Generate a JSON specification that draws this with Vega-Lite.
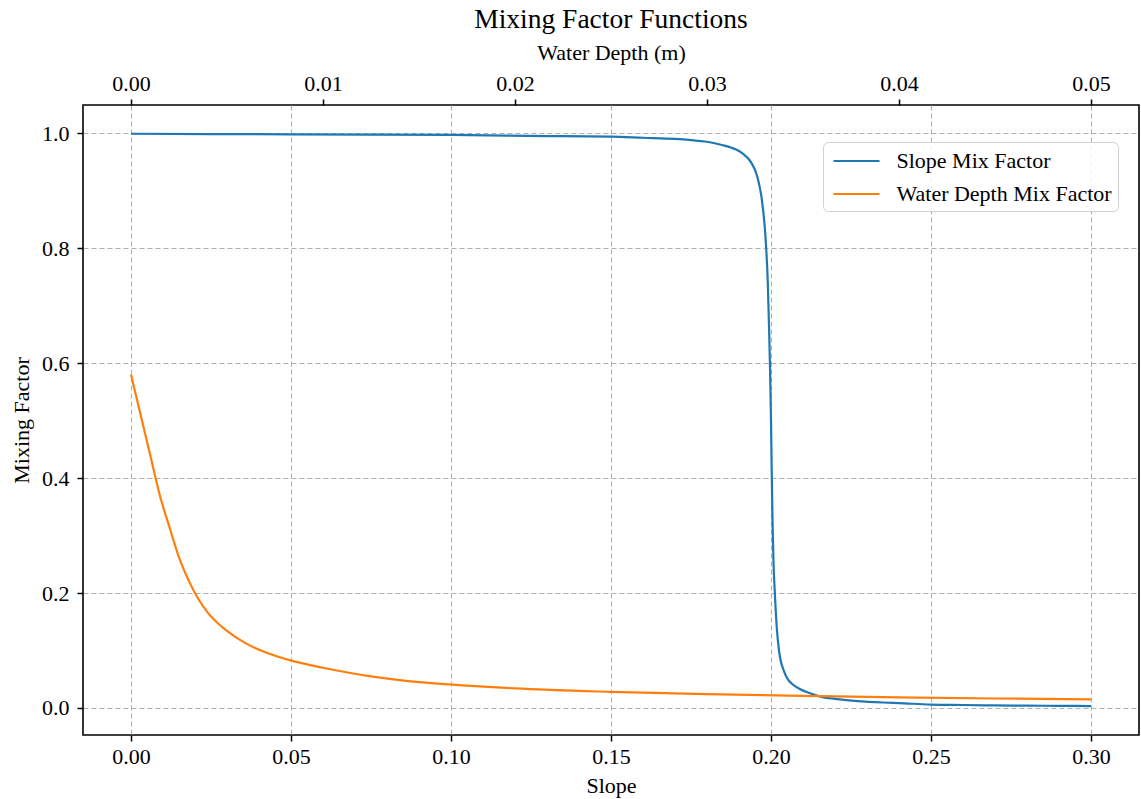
{
  "$schema": "https://vega.github.io/schema/vega-lite/v6.json",
  "autosize": "none",
  "padding": {"left": 83, "top": 105, "right": 2, "bottom": 64},
  "width": 1056,
  "height": 630,
  "background": "white",
  "title": {"text": "Mixing Factor Functions", "fontSize": 27.5, "fontWeight": "normal", "font": "Liberation Serif", "color": "black", "anchor": "middle", "offset": 8},
  "config": {
    "font": "Liberation Serif",
    "view": {"stroke": "black", "strokeWidth": 1.6},
    "axis": {
      "domain": false,
      "grid": true,
      "gridColor": "#b0b0b0",
      "gridDash": [5, 3],
      "gridWidth": 1.1,
      "tickColor": "black",
      "tickSize": 6,
      "tickWidth": 1.5,
      "labelFont": "Liberation Serif",
      "labelFontSize": 22,
      "labelColor": "black",
      "titleFont": "Liberation Serif",
      "titleFontSize": 22,
      "titleFontWeight": "normal",
      "titleColor": "black"
    }
  },
  "datasets": {
    "slopeData": [
      {"slope": 0.0, "value": 0.999, "series": "Slope Mix Factor"},
      {"slope": 0.05, "value": 0.998, "series": "Slope Mix Factor"},
      {"slope": 0.1, "value": 0.997, "series": "Slope Mix Factor"},
      {"slope": 0.13, "value": 0.995, "series": "Slope Mix Factor"},
      {"slope": 0.15, "value": 0.994, "series": "Slope Mix Factor"},
      {"slope": 0.16, "value": 0.992, "series": "Slope Mix Factor"},
      {"slope": 0.17, "value": 0.99, "series": "Slope Mix Factor"},
      {"slope": 0.175, "value": 0.988, "series": "Slope Mix Factor"},
      {"slope": 0.18, "value": 0.985, "series": "Slope Mix Factor"},
      {"slope": 0.185, "value": 0.979, "series": "Slope Mix Factor"},
      {"slope": 0.1875, "value": 0.975, "series": "Slope Mix Factor"},
      {"slope": 0.19, "value": 0.969, "series": "Slope Mix Factor"},
      {"slope": 0.1915, "value": 0.963, "series": "Slope Mix Factor"},
      {"slope": 0.193, "value": 0.955, "series": "Slope Mix Factor"},
      {"slope": 0.194, "value": 0.947, "series": "Slope Mix Factor"},
      {"slope": 0.195, "value": 0.936, "series": "Slope Mix Factor"},
      {"slope": 0.196, "value": 0.918, "series": "Slope Mix Factor"},
      {"slope": 0.197, "value": 0.89, "series": "Slope Mix Factor"},
      {"slope": 0.198, "value": 0.84, "series": "Slope Mix Factor"},
      {"slope": 0.1985, "value": 0.8, "series": "Slope Mix Factor"},
      {"slope": 0.199, "value": 0.74, "series": "Slope Mix Factor"},
      {"slope": 0.1994, "value": 0.66, "series": "Slope Mix Factor"},
      {"slope": 0.1997, "value": 0.59, "series": "Slope Mix Factor"},
      {"slope": 0.1999, "value": 0.53, "series": "Slope Mix Factor"},
      {"slope": 0.2, "value": 0.5, "series": "Slope Mix Factor"},
      {"slope": 0.2002, "value": 0.42, "series": "Slope Mix Factor"},
      {"slope": 0.2005, "value": 0.32, "series": "Slope Mix Factor"},
      {"slope": 0.2008, "value": 0.25, "series": "Slope Mix Factor"},
      {"slope": 0.2012, "value": 0.2, "series": "Slope Mix Factor"},
      {"slope": 0.2018, "value": 0.14, "series": "Slope Mix Factor"},
      {"slope": 0.2025, "value": 0.1, "series": "Slope Mix Factor"},
      {"slope": 0.203, "value": 0.083, "series": "Slope Mix Factor"},
      {"slope": 0.204, "value": 0.065, "series": "Slope Mix Factor"},
      {"slope": 0.205, "value": 0.052, "series": "Slope Mix Factor"},
      {"slope": 0.207, "value": 0.04, "series": "Slope Mix Factor"},
      {"slope": 0.209, "value": 0.033, "series": "Slope Mix Factor"},
      {"slope": 0.212, "value": 0.026, "series": "Slope Mix Factor"},
      {"slope": 0.216, "value": 0.019, "series": "Slope Mix Factor"},
      {"slope": 0.22, "value": 0.016, "series": "Slope Mix Factor"},
      {"slope": 0.227, "value": 0.012, "series": "Slope Mix Factor"},
      {"slope": 0.235, "value": 0.0095, "series": "Slope Mix Factor"},
      {"slope": 0.24, "value": 0.0085, "series": "Slope Mix Factor"},
      {"slope": 0.25, "value": 0.006, "series": "Slope Mix Factor"},
      {"slope": 0.26, "value": 0.0052, "series": "Slope Mix Factor"},
      {"slope": 0.27, "value": 0.0045, "series": "Slope Mix Factor"},
      {"slope": 0.28, "value": 0.0041, "series": "Slope Mix Factor"},
      {"slope": 0.29, "value": 0.0037, "series": "Slope Mix Factor"},
      {"slope": 0.3, "value": 0.0034, "series": "Slope Mix Factor"}
    ],
    "depthData": [
      {"depth": 0.0, "value": 0.58, "series": "Water Depth Mix Factor"},
      {"depth": 0.0005, "value": 0.51, "series": "Water Depth Mix Factor"},
      {"depth": 0.001, "value": 0.44, "series": "Water Depth Mix Factor"},
      {"depth": 0.0015, "value": 0.37, "series": "Water Depth Mix Factor"},
      {"depth": 0.002, "value": 0.315, "series": "Water Depth Mix Factor"},
      {"depth": 0.0025, "value": 0.262, "series": "Water Depth Mix Factor"},
      {"depth": 0.003, "value": 0.222, "series": "Water Depth Mix Factor"},
      {"depth": 0.0035, "value": 0.19, "series": "Water Depth Mix Factor"},
      {"depth": 0.004, "value": 0.166, "series": "Water Depth Mix Factor"},
      {"depth": 0.005, "value": 0.134, "series": "Water Depth Mix Factor"},
      {"depth": 0.006, "value": 0.112, "series": "Water Depth Mix Factor"},
      {"depth": 0.007, "value": 0.097, "series": "Water Depth Mix Factor"},
      {"depth": 0.0085, "value": 0.081, "series": "Water Depth Mix Factor"},
      {"depth": 0.01, "value": 0.07, "series": "Water Depth Mix Factor"},
      {"depth": 0.0125, "value": 0.055, "series": "Water Depth Mix Factor"},
      {"depth": 0.015, "value": 0.045, "series": "Water Depth Mix Factor"},
      {"depth": 0.0175, "value": 0.039, "series": "Water Depth Mix Factor"},
      {"depth": 0.02, "value": 0.034, "series": "Water Depth Mix Factor"},
      {"depth": 0.025, "value": 0.028, "series": "Water Depth Mix Factor"},
      {"depth": 0.03, "value": 0.024, "series": "Water Depth Mix Factor"},
      {"depth": 0.035, "value": 0.021, "series": "Water Depth Mix Factor"},
      {"depth": 0.04, "value": 0.0185, "series": "Water Depth Mix Factor"},
      {"depth": 0.045, "value": 0.0165, "series": "Water Depth Mix Factor"},
      {"depth": 0.05, "value": 0.015, "series": "Water Depth Mix Factor"}
    ]
  },
  "layer": [
    {
      "data": {"name": "slopeData"},
      "mark": {"type": "line", "strokeWidth": 2.2, "interpolate": "monotone"},
      "encoding": {
        "x": {
          "field": "slope", "type": "quantitative",
          "scale": {"domain": [-0.015, 0.315], "nice": false, "zero": false},
          "axis": {"orient": "bottom", "title": "Slope", "values": [0, 0.05, 0.1, 0.15, 0.2, 0.25, 0.3], "format": ".2f", "labelPadding": 5, "titlePadding": 8}
        },
        "y": {
          "field": "value", "type": "quantitative",
          "scale": {"domain": [-0.047, 1.049], "nice": false, "zero": false},
          "axis": {"title": "Mixing Factor", "values": [0, 0.2, 0.4, 0.6, 0.8, 1.0], "format": ".1f", "labelPadding": 8, "titlePadding": 8}
        },
        "color": {
          "field": "series", "type": "nominal",
          "scale": {"domain": ["Slope Mix Factor", "Water Depth Mix Factor"], "range": ["#1f77b4", "#ff7f0e"]},
          "legend": {
            "title": null, "orient": "none", "legendX": 740, "legendY": 37,
            "symbolType": "M-2,0H2", "symbolSize": 529, "symbolStrokeWidth": 2.2, "symbolOffset": 14.5,
            "labelFontSize": 22, "labelFont": "Liberation Serif", "labelColor": "black", "labelOffset": 27, "labelLimit": 500,
            "padding": 6, "rowPadding": 9,
            "strokeColor": "#d0d0d0", "fillColor": "rgba(255,255,255,0.85)", "cornerRadius": 5
          }
        }
      }
    },
    {
      "data": {"name": "depthData"},
      "mark": {"type": "line", "strokeWidth": 2.2, "interpolate": "monotone"},
      "encoding": {
        "x": {
          "field": "depth", "type": "quantitative",
          "scale": {"domain": [-0.0025, 0.0525], "nice": false, "zero": false},
          "axis": {"orient": "top", "title": "Water Depth (m)", "values": [0, 0.01, 0.02, 0.03, 0.04, 0.05], "format": ".2f", "labelPadding": 4, "titlePadding": 8}
        },
        "y": {"field": "value", "type": "quantitative"},
        "color": {"field": "series", "type": "nominal"}
      }
    }
  ],
  "resolve": {"scale": {"x": "independent"}, "axis": {"x": "independent"}}
}
